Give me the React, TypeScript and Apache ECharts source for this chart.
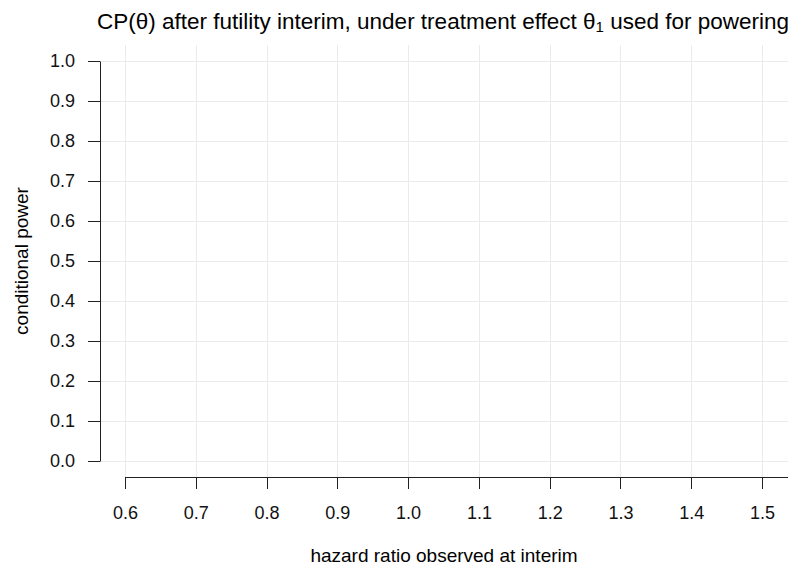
import React, { useEffect, useRef } from 'react';
import * as echarts from 'echarts';

// ---- data ----
const xTicks = [0.6, 0.7, 0.8, 0.9, 1.0, 1.1, 1.2, 1.3, 1.4, 1.5];
const yTicks = [0, 0.1, 0.2, 0.3, 0.4, 0.5, 0.6, 0.7, 0.8, 0.9, 1.0];
const xLimits = [0.6, 1.5];
const yLimits = [0, 1];
const expandMult = 0.04;
const titleMain = 'CP(θ) after futility interim, under treatment effect θ';
const titleSub = '1';
const titleEnd = ' used for powering';
const xTitle = 'hazard ratio observed at interim';
const yTitle = 'conditional power';

const FONT = '"Liberation Sans", Arial, Helvetica, sans-serif';
const GRID_COLOR = '#ebebeb';
const AXIS_COLOR = '#222222';
const TEXT_COLOR = '#111111';

const xSpan = xLimits[1] - xLimits[0];
const ySpan = yLimits[1] - yLimits[0];
const xMinE = xLimits[0] - xSpan * expandMult;
const xMaxE = xLimits[1] + xSpan * expandMult;
const yMinE = yLimits[0] - ySpan * expandMult;
const yMaxE = yLimits[1] + ySpan * expandMult;

// panel layout (px)
const W = 794;
const H = 568;
const panelLeft = 100;
const panelRight = 788;
const panelTop = 45;
const panelBottom = 477;
const TICK_LEN = 12;
const pxX = (panelRight - panelLeft) / (xMaxE - xMinE);
const pxY = (panelBottom - panelTop) / (yMaxE - yMinE);
const innerLeft = panelLeft + (xLimits[0] - xMinE) * pxX;
const innerRight = panelRight - (xMaxE - xLimits[1]) * pxX;
const innerTop = panelTop + (yMaxE - yLimits[1]) * pxY;
const innerBottom = panelBottom - (yLimits[0] - yMinE) * pxY;

const snap = (v: number) => Math.round(v - 0.5) + 0.5;

export default function App() {
  const ref = useRef<HTMLDivElement>(null);
  useEffect(() => {
    if (!ref.current) return;
    const chart = echarts.init(ref.current, undefined, { renderer: 'svg' });
    const lineStyle = { stroke: AXIS_COLOR, lineWidth: 1 };
    const option: any = {
      animation: false,
      backgroundColor: '#ffffff',
      grid: [
        { left: panelLeft, right: W - panelRight, top: panelTop, bottom: H - panelBottom, containLabel: false },
        { left: innerLeft, right: W - innerRight, top: innerTop, bottom: H - innerBottom, containLabel: false },
      ],
      xAxis: [
        { type: 'value', gridIndex: 0, min: xMinE, max: xMaxE, show: false },
        {
          type: 'value', gridIndex: 1, min: xLimits[0], max: xLimits[1], interval: 0.1,
          position: 'bottom', offset: panelBottom - innerBottom,
          axisLine: { show: false },
          axisTick: { show: false },
          axisLabel: { show: true, margin: 27, fontSize: 18, color: TEXT_COLOR, fontFamily: FONT, formatter: (v: number) => v.toFixed(1), showMinLabel: true, showMaxLabel: true },
          splitLine: { show: false },
        },
      ],
      yAxis: [
        { type: 'value', gridIndex: 0, min: yMinE, max: yMaxE, show: false },
        {
          type: 'value', gridIndex: 1, min: yLimits[0], max: yLimits[1], interval: 0.1,
          position: 'left', offset: innerLeft - panelLeft,
          axisLine: { show: false },
          axisTick: { show: false },
          axisLabel: { show: true, margin: 25, fontSize: 18, color: TEXT_COLOR, fontFamily: FONT, formatter: (v: number) => v.toFixed(1), showMinLabel: true, showMaxLabel: true },
          splitLine: { show: false },
        },
      ],
      series: [
        {
          type: 'custom', name: 'vgrid', xAxisIndex: 0, yAxisIndex: 0, silent: true, z: 1,
          data: xTicks.map((v) => [v, yLimits[0]]),
          renderItem: (params: any, api: any) => {
            const v = api.value(0);
            const a = api.coord([v, yMaxE]);
            const b = api.coord([v, yMinE]);
            const x = snap(a[0]);
            return {
              type: 'group',
              children: [
                { type: 'line', shape: { x1: x, y1: a[1], x2: x, y2: b[1] }, style: { stroke: GRID_COLOR, lineWidth: 1 }, z2: 1 },
                { type: 'line', shape: { x1: x, y1: b[1], x2: x, y2: b[1] + TICK_LEN }, style: lineStyle, z2: 5 },
              ],
            };
          },
        },
        {
          type: 'custom', name: 'hgrid', xAxisIndex: 0, yAxisIndex: 0, silent: true, z: 1,
          data: yTicks.map((v) => [xLimits[0], v]),
          renderItem: (params: any, api: any) => {
            const v = api.value(1);
            const a = api.coord([xMinE, v]);
            const b = api.coord([xMaxE, v]);
            const y = snap(a[1]);
            return {
              type: 'group',
              children: [
                { type: 'line', shape: { x1: a[0], y1: y, x2: b[0], y2: y }, style: { stroke: GRID_COLOR, lineWidth: 1 }, z2: 1 },
                { type: 'line', shape: { x1: a[0] - TICK_LEN, y1: y, x2: a[0], y2: y }, style: lineStyle, z2: 5 },
              ],
            };
          },
        },
        {
          type: 'custom', name: 'axes', xAxisIndex: 0, yAxisIndex: 0, silent: true, z: 3,
          data: [[xLimits[0], yLimits[0]]],
          renderItem: (params: any, api: any) => {
            const xa = api.coord([xLimits[0], yMinE]);
            const xb = api.coord([xMaxE, yMinE]);
            const ya = api.coord([xMinE, yLimits[0]]);
            const yb = api.coord([xMinE, yLimits[1]]);
            const yy = snap(xa[1]);
            const xx = snap(ya[0]);
            return {
              type: 'group',
              children: [
                { type: 'line', shape: { x1: snap(xa[0]), y1: yy, x2: xb[0], y2: yy }, style: lineStyle },
                { type: 'line', shape: { x1: xx, y1: snap(ya[1]), x2: xx, y2: snap(yb[1]) }, style: lineStyle },
              ],
            };
          },
        },
        { type: 'scatter', xAxisIndex: 1, yAxisIndex: 1, data: [], silent: true },
      ],
      graphic: [
        {
          type: 'text', x: (panelLeft + panelRight) / 2 - 1, y: 21, silent: true,
          style: {
            text: `{a|${titleMain}}{s|${titleSub}}{a|${titleEnd}}`,
            textAlign: 'center', textVerticalAlign: 'middle',
            rich: {
              a: { fontSize: 22.5, fontFamily: FONT, fill: '#000', lineHeight: 26 },
              s: { fontSize: 15, fontFamily: FONT, fill: '#000', lineHeight: 15, verticalAlign: 'bottom' },
            },
          },
        },
        {
          type: 'text', x: (panelLeft + panelRight) / 2, y: 555, silent: true,
          style: { text: xTitle, fontSize: 19, fontFamily: FONT, fill: '#000', textAlign: 'center', textVerticalAlign: 'middle' },
        },
        {
          type: 'text', x: 21.5, y: (innerTop + innerBottom) / 2, rotation: Math.PI / 2, silent: true,
          style: { text: yTitle, fontSize: 19, fontFamily: FONT, fill: '#000', textAlign: 'center', textVerticalAlign: 'middle' },
        },
      ],
    };
    chart.setOption(option);
    return () => chart.dispose();
  }, []);
  return <div ref={ref} style={{ position: 'fixed', left: 0, top: 0, width: W, height: H }} />;
}
